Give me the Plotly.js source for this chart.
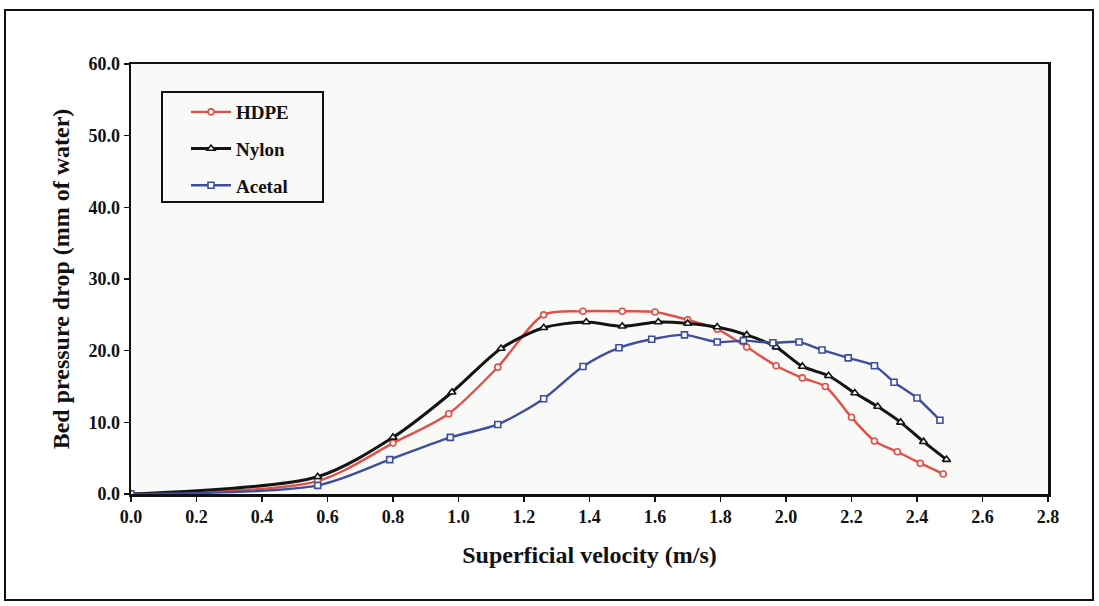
<!DOCTYPE html>
<html>
<head>
<meta charset="utf-8">
<script src="https://cdn.plot.ly/plotly-3.0.1.min.js"></script>
<style>
html,body{margin:0;padding:0;background:#ffffff;}
#chart{width:1099px;height:606px;}
</style>
</head>
<body>
<div id="chart"></div>
<script>
// Superficial velocity (m/s)
const velocityHDPE   = [0, 0.57, 0.80, 0.97, 1.12, 1.26, 1.38, 1.50, 1.60, 1.70, 1.79, 1.88, 1.97, 2.05, 2.12, 2.20, 2.27, 2.34, 2.41, 2.48];
const velocityNylon  = [0, 0.57, 0.80, 0.98, 1.13, 1.26, 1.39, 1.50, 1.61, 1.70, 1.79, 1.88, 1.97, 2.05, 2.13, 2.21, 2.28, 2.35, 2.42, 2.49];
const velocityAcetal = [0, 0.57, 0.79, 0.975, 1.12, 1.26, 1.38, 1.49, 1.59, 1.69, 1.79, 1.87, 1.96, 2.04, 2.11, 2.19, 2.27, 2.33, 2.40, 2.47];
// Bed pressure drop (mm of water)
const dropHDPE   = [0, 1.8, 7.1, 11.2, 17.7, 25.0, 25.5, 25.5, 25.4, 24.3, 23.0, 20.5, 17.9, 16.2, 15.0, 10.7, 7.4, 5.9, 4.3, 2.8];
const dropNylon  = [0, 2.4, 7.9, 14.2, 20.3, 23.2, 24.0, 23.4, 24.0, 23.8, 23.3, 22.2, 20.5, 17.8, 16.5, 14.1, 12.2, 10.0, 7.3, 4.8];
const dropAcetal = [0, 1.2, 4.8, 7.9, 9.7, 13.3, 17.8, 20.4, 21.6, 22.2, 21.2, 21.4, 21.1, 21.2, 20.1, 19.0, 17.9, 15.6, 13.4, 10.3];

const seriesNames = ['HDPE', 'Nylon', 'Acetal'];
const xTickVals = [0, 0.2, 0.4, 0.6, 0.8, 1.0, 1.2, 1.4, 1.6, 1.8, 2.0, 2.2, 2.4, 2.6, 2.8];
const yTickVals = [0, 10, 20, 30, 40, 50, 60];

const serif = 'Liberation Serif, Times New Roman, serif';
const plotBg = '#f9f9f7';

function trace(name, x, y, color, width, symbol, size, group) {
  return {
    type: 'scatter', mode: 'lines+markers', name: name, x: x, y: y,
    legendgroup: group,
    line: {color: color, width: width, shape: 'spline', smoothing: 0.8},
    marker: {symbol: symbol, size: size, color: plotBg, line: {color: color, width: 1.6}}
  };
}

const data = [
  trace(seriesNames[0], velocityHDPE, dropHDPE, '#e0504a', 2.4, 'circle', 6, 'g1'),
  trace(seriesNames[1], velocityNylon, dropNylon, '#141414', 3, 'triangle-up', 7, 'g2'),
  trace(seriesNames[2], velocityAcetal, dropAcetal, '#3c4e9c', 2.4, 'square', 6, 'g3')
];

const L = 131, R = 1048, T = 64, B = 494;
const pw = R - L, ph = B - T;
const px = v => (v - L) / pw;
const py = v => (B - v) / ph;

const layout = {
  width: 1099, height: 606,
  margin: {l: L, r: 1099 - R, t: T, b: 606 - B, pad: 0},
  paper_bgcolor: '#ffffff',
  plot_bgcolor: plotBg,
  font: {family: serif, color: '#111', size: 17, weight: 'bold'},
  showlegend: true,
  legend: {
    x: px(186), y: py(93), xanchor: 'left', yanchor: 'top',
    bgcolor: 'rgba(0,0,0,0)', borderwidth: 0,
    font: {family: serif, size: 19, color: '#111', weight: 'bold'},
    tracegroupgap: 9, itemwidth: 40
  },
  xaxis: {
    range: [0, 2.8], tickvals: xTickVals, tickformat: '.1f',
    showgrid: false, zeroline: false,
    showline: true, linecolor: '#111', linewidth: 2.5, mirror: true,
    ticks: 'outside', ticklen: 5, tickwidth: 1.5, tickcolor: '#111',
    tickfont: {family: serif, size: 18, weight: 'bold', color: '#111'},
    title: {text: 'Superficial velocity (m/s)', standoff: 20,
            font: {family: serif, size: 24, weight: 'bold', color: '#111'}}
  },
  yaxis: {
    range: [0, 60], tickvals: yTickVals, tickformat: '.1f',
    showgrid: false, zeroline: false,
    showline: true, linecolor: '#111', linewidth: 2.5, mirror: true,
    ticks: 'outside', ticklen: 5, tickwidth: 1.5, tickcolor: '#111',
    tickfont: {family: serif, size: 18, weight: 'bold', color: '#111'},
    title: {text: 'Bed pressure drop (mm of water)', standoff: 12,
            font: {family: serif, size: 24, weight: 'bold', color: '#111'}}
  },
  shapes: [
    {type: 'rect', xref: 'paper', yref: 'paper',
     x0: px(5), x1: px(1093), y0: py(600), y1: py(10),
     line: {color: '#111', width: 2}, fillcolor: 'rgba(0,0,0,0)', layer: 'below'},
    {type: 'rect', xref: 'paper', yref: 'paper',
     x0: px(162), x1: px(323), y0: py(202), y1: py(92),
     line: {color: '#111', width: 2}, fillcolor: 'rgba(0,0,0,0)'}
  ]
};

Plotly.newPlot('chart', data, layout, {displayModeBar: false, staticPlot: true});
</script>
</body>
</html>
